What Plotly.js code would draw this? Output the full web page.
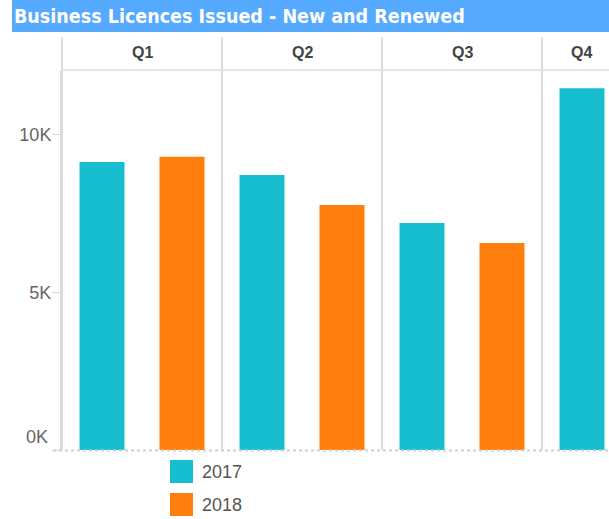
<!DOCTYPE html>
<html>
<head>
<meta charset="utf-8">
<script src="https://cdn.plot.ly/plotly-3.0.1.min.js"></script>
<style>html,body{margin:0;padding:0;background:#fff;}#chart{width:609px;height:519px;}</style>
</head>
<body>
<div id="chart"></div>
<script>
// ---- data ----
const chartTitle = 'Business Licences Issued - New and Renewed';
const quarters = ['Q1', 'Q2', 'Q3', 'Q4'];
const years = ['2017', '2018'];
const values2017 = [9140, 8730, 7210, 11480];
const values2018 = [9310, 7780, 6570, null];
const yTickVals = [0, 5000, 10000];
const yTickText = ['0K', '5K', '10K'];

// ---- styling ----
const colors = ['#17becf', '#ff7f0e'];
const W = 609, H = 519;
const L = 62, T = 70, B = 69;
const PW = W - L, PH = H - T - B;   // plot area in pixels
const panelPx = 160;
const px = p => (p - L) / PW;        // pixel x -> paper
const py = p => (H - B - p) / PH;    // pixel y -> paper

const series = [values2017, values2018];
const traces = [];
quarters.forEach((q, qi) => {
  const ax = qi === 0 ? 'x' : 'x' + (qi + 1);
  years.forEach((yr, yi) => {
    const v = series[yi][qi];
    if (v === null || v === undefined) return;
    traces.push({
      type: 'bar', x: [yr], y: [v], xaxis: ax, yaxis: 'y',
      name: yr, showlegend: false, width: 0.5625,
      marker: {color: colors[yi]}, hoverinfo: 'skip'
    });
  });
});

// the zero label sits a little above its tick in the reference
const axisText = yTickText.map((t, i) => (yTickVals[i] === 0 ? '' : t));

const layout = {
  width: W, height: H,
  margin: {l: L, r: 0, t: T, b: B, pad: 0},
  paper_bgcolor: '#ffffff', plot_bgcolor: 'rgba(0,0,0,0)',
  barmode: 'overlay',
  showlegend: false,
  font: {family: 'Arial, "Liberation Sans", sans-serif', color: '#555'},
  title: {
    text: chartTitle,
    font: {family: '"DejaVu Sans Condensed", "DejaVu Sans", sans-serif', size: 19.5, color: '#ffffff', weight: 'bold'},
    xref: 'container', yref: 'container', x: 14 / W, xanchor: 'left', y: 1 - 16 / H, yanchor: 'middle'
  },
  yaxis: {
    domain: [0, 1], range: [0, 12063], anchor: 'x',
    tickvals: yTickVals, ticktext: axisText,
    ticks: 'outside', ticklen: 8, tickcolor: '#d9d9d9', tickwidth: 1,
    ticklabelstandoff: -3,
    showline: true, linecolor: '#dcdcdc', linewidth: 2,
    showgrid: false, zeroline: false,
    tickfont: {size: 18, color: '#666'}, fixedrange: true
  },
  shapes: [], annotations: []
};

yTickVals.forEach((v, i) => {
  if (v !== 0) return;
  layout.annotations.push({text: yTickText[i], xref: 'paper', yref: 'paper', x: px(50), y: py(437),
    xanchor: 'right', yanchor: 'middle', showarrow: false, font: {size: 18, color: '#666'}});
});

quarters.forEach((q, qi) => {
  const key = qi === 0 ? 'xaxis' : 'xaxis' + (qi + 1);
  const d0 = qi * panelPx / PW;
  const d1 = Math.min(1, (qi + 1) * panelPx / PW);
  const visibleUnits = (d1 - d0) * PW / (panelPx / 2);
  layout[key] = {
    domain: [d0, d1], anchor: 'y', type: 'category', categoryarray: years, categoryorder: 'array',
    range: [-0.5, -0.5 + visibleUnits],
    showticklabels: false, showgrid: false, zeroline: false, showline: false, ticks: '', fixedrange: true
  };
  // panel divider line
  layout.shapes.push({type: 'line', xref: 'paper', yref: 'paper', x0: d0, x1: d0, y0: 0, y1: py(37),
    line: {color: '#dcdcdc', width: 2}});
  // header label
  const cx = qi === quarters.length - 1 ? px(581) : (d0 + d1) / 2;
  layout.annotations.push({text: q, xref: 'paper', yref: 'paper', x: cx, y: py(52),
    xanchor: 'center', yanchor: 'middle', showarrow: false,
    font: {size: 16, color: '#444', weight: 'bold'}});
});

// title bar
layout.shapes.push({type: 'rect', layer: 'below', xref: 'paper', yref: 'paper',
  x0: px(12), x1: 1.01, y0: py(32), y1: py(-2), fillcolor: '#55aaff', line: {width: 0}});
// header bottom line
layout.shapes.push({type: 'line', xref: 'paper', yref: 'paper', x0: 0, x1: 1, y0: 1, y1: 1,
  line: {color: '#dcdcdc', width: 1.5}});
// dotted baseline
layout.shapes.push({type: 'line', xref: 'paper', yref: 'paper', x0: px(53), x1: 1, y0: py(450.5), y1: py(450.5),
  line: {color: '#cfcfcf', width: 2, dash: 'dot'}});

// legend (drawn below the plot)
years.forEach((yr, yi) => {
  const top = 460 + yi * 33;
  layout.shapes.push({type: 'rect', xref: 'paper', yref: 'paper',
    x0: px(170), x1: px(193), y0: py(top + 23), y1: py(top),
    fillcolor: colors[yi], line: {width: 0}});
  layout.annotations.push({text: yr, xref: 'paper', yref: 'paper', x: px(200), y: py(top + 11.5),
    xanchor: 'left', yanchor: 'middle', showarrow: false,
    font: {size: 18, color: '#555'}});
});

Plotly.newPlot('chart', traces, layout, {displayModeBar: false, staticPlot: true});
</script>
</body>
</html>
